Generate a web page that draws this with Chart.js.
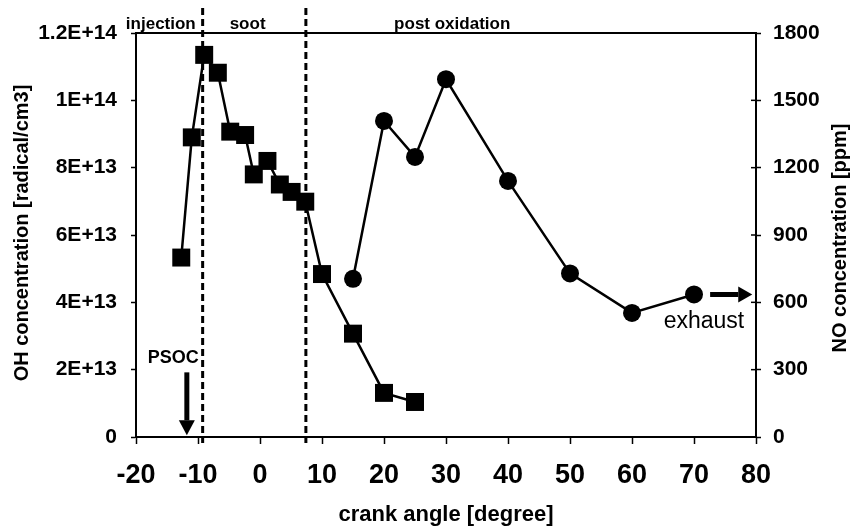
<!DOCTYPE html>
<html>
<head>
<meta charset="utf-8">
<script src="https://cdn.jsdelivr.net/npm/chart.js@4.4.1/dist/chart.umd.min.js"></script>
<style>
  body { margin: 0; background: #fff; }
  #wrap { width: 854px; height: 531px; }
</style>
</head>
<body>
<div id="wrap"><canvas id="ohChart" width="854" height="531"></canvas></div>
<script>
// Values
const crankOH = [-12.7, -11, -9, -6.8, -4.8, -2.4, -1, 1.2, 3.2, 5.1, 7.3, 10, 15, 20, 25];
const ohValues = [5.33e13, 8.9e13, 1.135e14, 1.082e14, 9.07e13, 8.97e13, 7.8e13, 8.2e13, 7.5e13, 7.28e13, 6.99e13, 4.84e13, 3.07e13, 1.31e13, 1.04e13];
const crankNO = [15, 20, 25, 30, 40, 50, 60, 70];
const noValues = [705, 1408, 1248, 1594, 1141, 729, 553, 635];

const xTicks = [-20, -10, 0, 10, 20, 30, 40, 50, 60, 70, 80];
const ohTicks = [0, 2e13, 4e13, 6e13, 8e13, 1e14, 1.2e14];
const noTicks = [0, 300, 600, 900, 1200, 1500, 1800];

// phase boundaries (dashed) and their labels
const phaseBounds = [-9.25, 7.4];
const phaseLabels = ['injection', 'soot', 'post oxidation'];
const phaseLabelAt = [-16, -2, 31];

const FONT = "'Liberation Sans', Arial, sans-serif";

function arrow(ctx, x1, y1, x2, y2, shaft, headLen, headHalf) {
    const ang = Math.atan2(y2 - y1, x2 - x1);
    const bx = x2 - Math.cos(ang) * headLen;
    const by = y2 - Math.sin(ang) * headLen;
    ctx.beginPath();
    ctx.lineWidth = shaft;
    ctx.moveTo(x1, y1);
    ctx.lineTo(bx, by);
    ctx.stroke();
    ctx.beginPath();
    ctx.moveTo(x2, y2);
    ctx.lineTo(bx - Math.sin(ang) * headHalf, by + Math.cos(ang) * headHalf);
    ctx.lineTo(bx + Math.sin(ang) * headHalf, by - Math.cos(ang) * headHalf);
    ctx.closePath();
    ctx.fill();
}

const decorations = {
    id: 'decorations',
    beforeDatasetsDraw(chart) {
        const { ctx, chartArea, scales } = chart;
        ctx.save();
        ctx.strokeStyle = '#000';
        ctx.lineWidth = 3;
        ctx.setLineDash([7, 4]);
        phaseBounds.forEach(v => {
            const px = scales.x.getPixelForValue(v);
            ctx.beginPath();
            ctx.moveTo(px, chartArea.top - 25);
            ctx.lineTo(px, chartArea.bottom + 6);
            ctx.stroke();
        });
        ctx.restore();
    },
    afterDraw(chart) {
        const { ctx, chartArea, scales } = chart;
        const x = scales.x, yl = scales.yOH, yr = scales.yNO;
        ctx.save();
        ctx.fillStyle = '#000';
        ctx.strokeStyle = '#000';

        // top frame line
        ctx.lineWidth = 2;
        ctx.beginPath();
        ctx.moveTo(chartArea.left, chartArea.top);
        ctx.lineTo(chartArea.right, chartArea.top);
        ctx.stroke();

        // right axis ticks cross inward too
        noTicks.forEach(v => {
            const py = yr.getPixelForValue(v);
            ctx.beginPath();
            ctx.lineWidth = 1.5;
            ctx.moveTo(chartArea.right - 5, py);
            ctx.lineTo(chartArea.right, py);
            ctx.stroke();
        });

        // phase labels
        ctx.font = 'bold 17px ' + FONT;
        ctx.textAlign = 'center';
        ctx.textBaseline = 'alphabetic';
        phaseLabels.forEach((t, i) => {
            ctx.fillText(t, x.getPixelForValue(phaseLabelAt[i]), chartArea.top - 4);
        });

        // PSOC marker
        ctx.font = 'bold 18px ' + FONT;
        ctx.textBaseline = 'middle';
        ctx.fillText('PSOC', x.getPixelForValue(-14), yl.getPixelForValue(2.34e13));
        const psx = x.getPixelForValue(-11.8);
        arrow(ctx, psx, yl.getPixelForValue(1.92e13), psx, yl.getPixelForValue(0.05e13), 5, 15, 8);

        // exhaust marker
        const ey = yr.getPixelForValue(635);
        arrow(ctx, x.getPixelForValue(72.6), ey, x.getPixelForValue(79.4), ey, 5, 14, 8);
        ctx.font = '23px ' + FONT;
        ctx.textBaseline = 'alphabetic';
        ctx.fillText('exhaust', x.getPixelForValue(71.6), yr.getPixelForValue(485));

        // axis titles
        ctx.font = 'bold 22px ' + FONT;
        ctx.textBaseline = 'middle';
        ctx.fillText('crank angle [degree]', (chartArea.left + chartArea.right) / 2, 515);

        ctx.font = 'bold 20px ' + FONT;
        ctx.save();
        ctx.translate(22, (chartArea.top + chartArea.bottom) / 2 - 2);
        ctx.rotate(-Math.PI / 2);
        ctx.fillText('OH concentration [radical/cm3]', 0, 0);
        ctx.restore();

        ctx.save();
        ctx.translate(840, (chartArea.top + chartArea.bottom) / 2 + 3);
        ctx.rotate(-Math.PI / 2);
        ctx.fillText('NO concentration [ppm]', 0, 0);
        ctx.restore();

        ctx.restore();
    }
};

function createChart() {
    const ctx = document.getElementById('ohChart').getContext('2d');
    Chart.defaults.font.family = FONT;
    Chart.defaults.color = '#000';

    new Chart(ctx, {
        type: 'scatter',
        data: {
            datasets: [{
                label: 'OH',
                data: crankOH.map((c, i) => ({ x: c, y: ohValues[i] })),
                yAxisID: 'yOH',
                showLine: true,
                borderColor: '#000',
                borderWidth: 2.5,
                backgroundColor: '#000',
                pointStyle: 'rect',
                pointRadius: 12.7,
                pointBorderWidth: 0
            }, {
                label: 'NO',
                data: crankNO.map((c, i) => ({ x: c, y: noValues[i] })),
                yAxisID: 'yNO',
                showLine: true,
                borderColor: '#000',
                borderWidth: 2.5,
                backgroundColor: '#000',
                pointStyle: 'circle',
                pointRadius: 9,
                pointBorderWidth: 0
            }]
        },
        options: {
            responsive: false,
            animation: false,
            devicePixelRatio: 1,
            layout: { padding: { top: 33, left: 0, right: 0, bottom: 0 } },
            plugins: {
                legend: { display: false },
                tooltip: { enabled: false }
            },
            scales: {
                x: {
                    type: 'linear',
                    min: -20,
                    max: 80,
                    afterBuildTicks: s => { s.ticks = xTicks.map(v => ({ value: v })); },
                    afterFit: s => { s.height = 94; },
                    grid: { drawOnChartArea: false, tickLength: 7, tickWidth: 1.5, color: '#000' },
                    border: { display: true, color: '#000', width: 2 },
                    ticks: {
                        font: { size: 27, weight: 'bold' },
                        padding: 15,
                        maxRotation: 0,
                        callback: v => String(v)
                    }
                },
                yOH: {
                    type: 'linear',
                    position: 'left',
                    min: 0,
                    max: 1.2e14,
                    afterBuildTicks: s => { s.ticks = ohTicks.map(v => ({ value: v })); },
                    afterFit: s => { s.width = 136; },
                    grid: { drawOnChartArea: false, tickLength: 5, tickWidth: 1.5, color: '#000' },
                    border: { display: true, color: '#000', width: 2 },
                    ticks: {
                        font: { size: 21, weight: 'bold' },
                        padding: 14,
                        callback: v => v === 0 ? '0' : Number(v.toPrecision(3)).toExponential().toUpperCase()
                    }
                },
                yNO: {
                    type: 'linear',
                    position: 'right',
                    min: 0,
                    max: 1800,
                    afterBuildTicks: s => { s.ticks = noTicks.map(v => ({ value: v })); },
                    afterFit: s => { s.width = 98; },
                    grid: { drawOnChartArea: false, tickLength: 5, tickWidth: 1.5, color: '#000' },
                    border: { display: true, color: '#000', width: 2 },
                    ticks: {
                        font: { size: 21, weight: 'bold' },
                        padding: 12,
                        callback: v => String(v)
                    }
                }
            }
        },
        plugins: [decorations]
    });
}

document.addEventListener('DOMContentLoaded', createChart);
</script>
</body>
</html>
